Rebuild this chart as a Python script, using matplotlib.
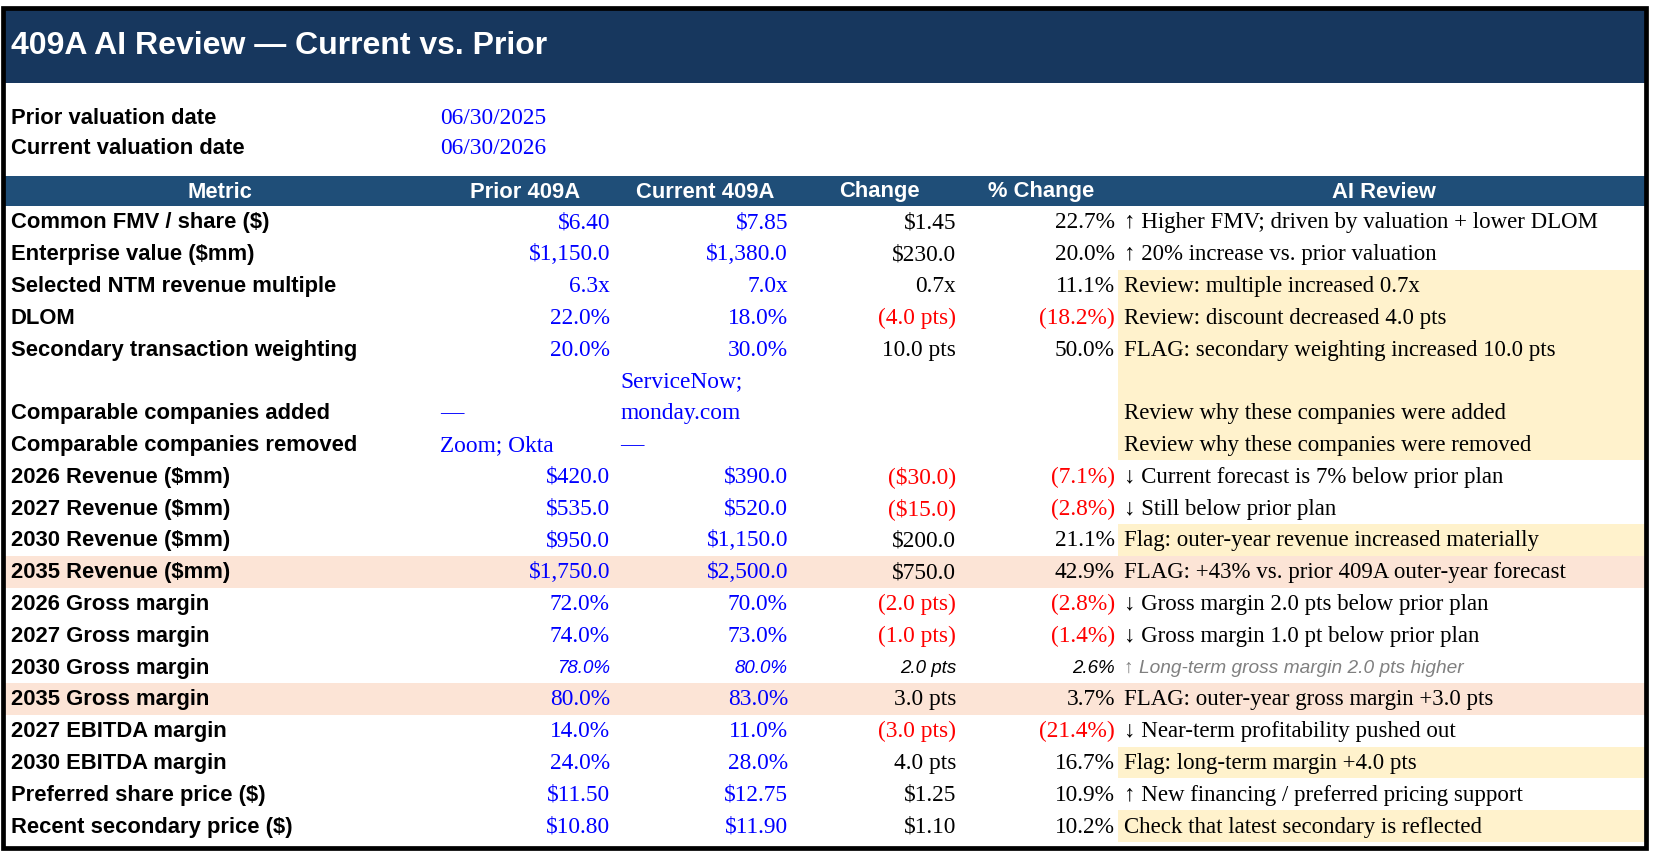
import matplotlib
matplotlib.use("Agg")
import matplotlib.pyplot as plt
from matplotlib.patches import Rectangle

# ---- table content ----
title = "409A AI Review \u2014 Current vs. Prior"
date_labels = ["Prior valuation date", "Current valuation date"]
date_values = ["06/30/2025", "06/30/2026"]
headers = ["Metric", "Prior 409A", "Current 409A", "Change", "% Change", "AI Review"]

metrics = [
    "Common FMV / share ($)", "Enterprise value ($mm)", "Selected NTM revenue multiple",
    "DLOM", "Secondary transaction weighting", "Comparable companies added",
    "Comparable companies removed", "2026 Revenue ($mm)", "2027 Revenue ($mm)",
    "2030 Revenue ($mm)", "2035 Revenue ($mm)", "2026 Gross margin", "2027 Gross margin",
    "2030 Gross margin", "2035 Gross margin", "2027 EBITDA margin", "2030 EBITDA margin",
    "Preferred share price ($)", "Recent secondary price ($)",
]
prior = ["$6.40", "$1,150.0", "6.3x", "22.0%", "20.0%", "\u2014", "Zoom; Okta",
         "$420.0", "$535.0", "$950.0", "$1,750.0", "72.0%", "74.0%", "78.0%", "80.0%",
         "14.0%", "24.0%", "$11.50", "$10.80"]
current = ["$7.85", "$1,380.0", "7.0x", "18.0%", "30.0%", "ServiceNow;\nmonday.com", "\u2014",
           "$390.0", "$520.0", "$1,150.0", "$2,500.0", "70.0%", "73.0%", "80.0%", "83.0%",
           "11.0%", "28.0%", "$12.75", "$11.90"]
change = ["$1.45", "$230.0", "0.7x", "(4.0 pts)", "10.0 pts", "", "",
          "($30.0)", "($15.0)", "$200.0", "$750.0", "(2.0 pts)", "(1.0 pts)", "2.0 pts", "3.0 pts",
          "(3.0 pts)", "4.0 pts", "$1.25", "$1.10"]
pct_change = ["22.7%", "20.0%", "11.1%", "(18.2%)", "50.0%", "", "",
              "(7.1%)", "(2.8%)", "21.1%", "42.9%", "(2.8%)", "(1.4%)", "2.6%", "3.7%",
              "(21.4%)", "16.7%", "10.9%", "10.2%"]
review = [
    "\u2191 Higher FMV; driven by valuation + lower DLOM",
    "\u2191 20% increase vs. prior valuation",
    "Review: multiple increased 0.7x",
    "Review: discount decreased 4.0 pts",
    "FLAG: secondary weighting increased 10.0 pts",
    "Review why these companies were added",
    "Review why these companies were removed",
    "\u2193 Current forecast is 7% below prior plan",
    "\u2193 Still below prior plan",
    "Flag: outer-year revenue increased materially",
    "FLAG: +43% vs. prior 409A outer-year forecast",
    "\u2193 Gross margin 2.0 pts below prior plan",
    "\u2193 Gross margin 1.0 pt below prior plan",
    "\u2191 Long-term gross margin 2.0 pts higher",
    "FLAG: outer-year gross margin +3.0 pts",
    "\u2193 Near-term profitability pushed out",
    "Flag: long-term margin +4.0 pts",
    "\u2191 New financing / preferred pricing support",
    "Check that latest secondary is reflected",
]
review_flagged = [2, 3, 4, 5, 6, 9, 16, 18]   # yellow review cells
row_flagged = [10, 14]                         # whole row shaded
italic_rows = [13]
row_lines = [2 if i == 5 else 1 for i in range(len(metrics))]

# ---- styling ----
SANS = "Liberation Sans"
SERIF = "Liberation Serif"
NAVY = "#17375e"
HEAD = "#1f4e78"
BLUE = "#0000ff"
RED = "#ff0000"
YELLOW = "#fff2cc"
PINK = "#fce4d6"
LAB_FS = 15.8
VAL_FS = 16.8
REV_FS = 16.5
ITAL_FS = 13.5

W, H = 1658, 858
fig = plt.figure(figsize=(W / 100, H / 100), dpi=100)
ax = fig.add_axes([0, 0, 1, 1])
ax.set_xlim(0, W)
ax.set_ylim(H, 0)
ax.axis("off")

left, right = 4, 1645
ax.add_patch(Rectangle((left, 8), right - left, 75, color=NAVY, lw=0))
ax.text(11, 46, title, fontsize=23.0, fontweight="bold", color="white",
        family=SANS, va="center", ha="left")

for i, (lab, val) in enumerate(zip(date_labels, date_values)):
    y = 118 + 30 * i
    ax.text(11, y, lab, fontsize=LAB_FS, fontweight="bold", family=SANS, va="center")
    ax.text(440, y, val, fontsize=VAL_FS, family=SERIF, color=BLUE, va="center")

# header band
ax.add_patch(Rectangle((left, 176), right - left, 30, color=HEAD, lw=0))
head_x = [220, 525, 705, 879, 1041, 1384]
for hx, h in zip(head_x, headers):
    ax.text(hx, 192, h, fontsize=LAB_FS, fontweight="bold", color="white",
            family=SANS, va="center", ha="center")

prior_l, prior_r = 440, 610
cur_l, cur_r = 620, 788
chg_r, pct_r = 956, 1115
ai_fill, ai_l = 1118, 1124
rh = 31.8

y0 = 206
for i, m in enumerate(metrics):
    n = row_lines[i]
    top, h = y0, rh * n
    y0 += h
    if i in row_flagged:
        ax.add_patch(Rectangle((left, top), right - left, h, color=PINK, lw=0))
    elif i in review_flagged:
        ax.add_patch(Rectangle((ai_fill, top), right - ai_fill, h, color=YELLOW, lw=0))
    yc = top + h - rh / 2 + 1

    ax.text(11, yc, m, fontsize=LAB_FS, fontweight="bold", family=SANS, va="center")

    ital = i in italic_rows
    if ital:
        vfont = dict(family=SANS, style="italic", fontsize=ITAL_FS)
    else:
        vfont = dict(family=SERIF, fontsize=VAL_FS)

    for txt, xl, xr in [(prior[i], prior_l, prior_r), (current[i], cur_l, cur_r)]:
        lines = txt.split("\n")
        is_num = txt[:1] in "$0123456789("
        for k, ln in enumerate(lines):
            ly = yc - rh * (len(lines) - 1 - k)
            if is_num:
                ax.text(xr, ly, ln, color=BLUE, ha="right", va="center", **vfont)
            else:
                ax.text(xl, ly, ln, color=BLUE, ha="left", va="center", **vfont)

    for txt, xr in [(change[i], chg_r), (pct_change[i], pct_r)]:
        if txt:
            col = RED if txt.startswith("(") else "black"
            ax.text(xr, yc, txt, color=col, ha="right", va="center", **vfont)

    if ital:
        ax.text(ai_l, yc, review[i], color="#808080", family=SANS, style="italic",
                fontsize=13.8, va="center")
    else:
        ax.text(ai_l, yc, review[i], color="black", family=SERIF, fontsize=REV_FS, va="center")

# outer frame
ax.add_patch(Rectangle((3.4, 7.7), 1646 - 3.4, 847.5 - 7.7, fill=False, ec="black", lw=3.4))

fig.savefig("out.png", dpi=100)
